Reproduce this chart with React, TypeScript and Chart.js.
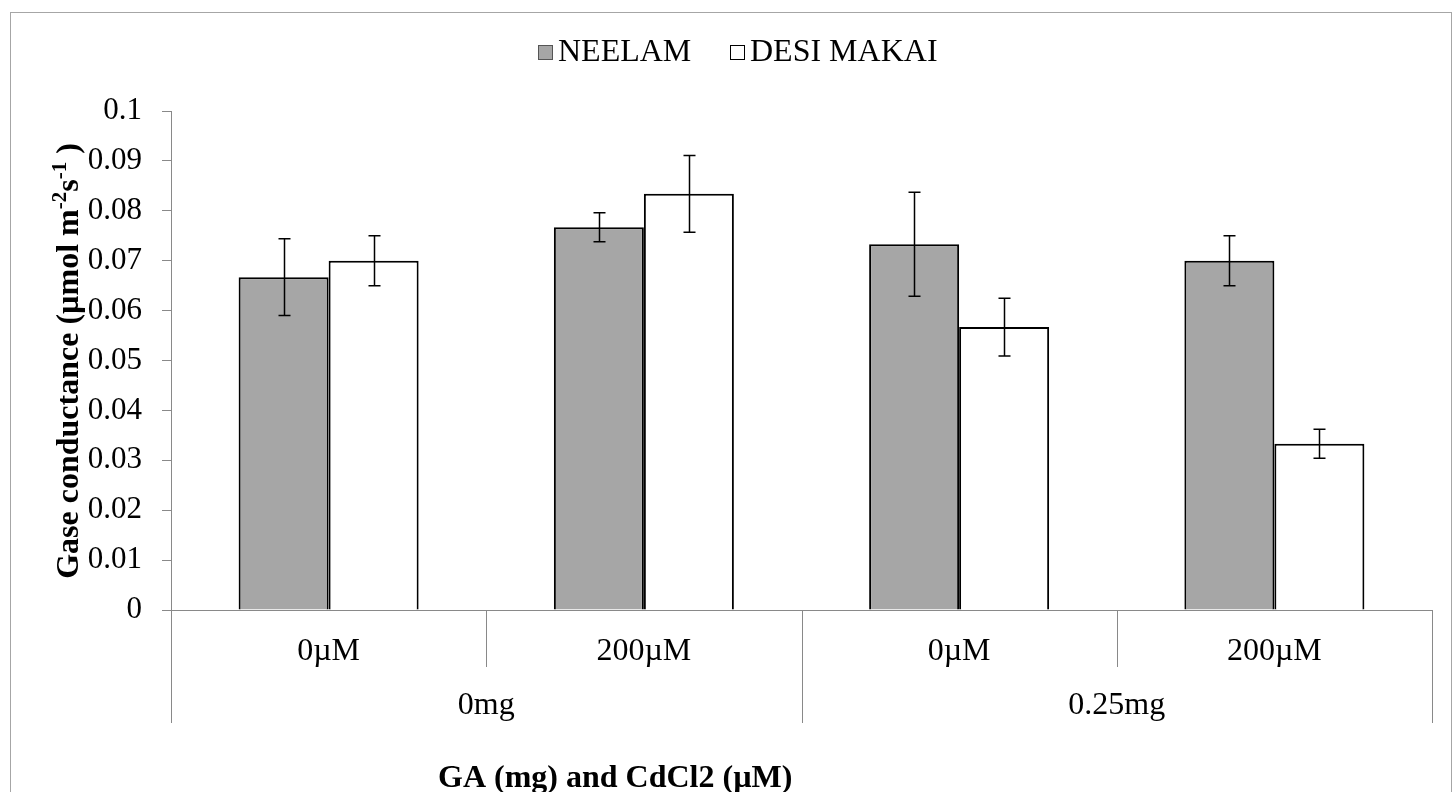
import React, { useEffect, useRef } from "react";
import { Chart, registerables } from "chart.js";

Chart.register(...registerables);

const subCategories = ["0µM", "200µM", "0µM", "200µM"];
const groupLabels = ["0mg", "0.25mg"];
const seriesNames = ["NEELAM", "DESI MAKAI"];
const neelam = [0.0667, 0.0767, 0.0733, 0.07];
const neelamErr = [0.0077, 0.0029, 0.0104, 0.005];
const desi = [0.07, 0.0834, 0.0567, 0.0333];
const desiErr = [0.005, 0.0077, 0.0058, 0.0029];
const yTickValues = [0, 0.01, 0.02, 0.03, 0.04, 0.05, 0.06, 0.07, 0.08, 0.09, 0.1];
const yTitleParts = [
  { t: "Gase conductance (µmol m", sup: false },
  { t: "-2", sup: true },
  { t: "s", sup: false },
  { t: "-1", sup: true },
  { t: " )", sup: false },
];
const xTitle = "GA (mg) and CdCl2 (µM)";

const FONT = "'Liberation Serif', 'Times New Roman', serif";
const AXIS_GRAY = "#898989";
const errs = [neelamErr, desiErr];

const decorPlugin = {
  id: "decor",
  afterDatasetsDraw(chart: any) {
    const ctx = chart.ctx;
    const y = chart.scales.y;
    ctx.save();
    ctx.strokeStyle = "#000";
    ctx.lineWidth = 1.5;
    chart.data.datasets.forEach((ds: any, di: number) => {
      const meta = chart.getDatasetMeta(di);
      meta.data.forEach((el: any, i: number) => {
        const v = ds.data[i];
        const e = errs[di][i];
        const x = Math.round(el.x) + 0.5;
        const yt = y.getPixelForValue(v + e);
        const yb = y.getPixelForValue(v - e);
        ctx.beginPath();
        ctx.moveTo(x, yt);
        ctx.lineTo(x, yb);
        ctx.moveTo(x - 6, yt);
        ctx.lineTo(x + 6, yt);
        ctx.moveTo(x - 6, yb);
        ctx.lineTo(x + 6, yb);
        ctx.stroke();
      });
    });
    ctx.restore();
  },
  afterDraw(chart: any) {
    const ctx = chart.ctx;
    const area = chart.chartArea;
    const xs = chart.scales.x;
    ctx.save();
    // outer border
    ctx.strokeStyle = "#A6A6A6";
    ctx.lineWidth = 1;
    ctx.strokeRect(10.5, 12.5, 1441, 790);

    // category separators
    ctx.strokeStyle = AXIS_GRAY;
    const n = subCategories.length;
    const catW = (area.right - area.left) / n;
    for (let i = 0; i <= n; i++) {
      const x = Math.round(area.left + catW * i) + 0.5;
      const outer = i % 2 === 0;
      ctx.beginPath();
      ctx.moveTo(x, area.bottom);
      ctx.lineTo(x, outer ? area.bottom + 113 : area.bottom + 57);
      ctx.stroke();
    }

    // category labels
    ctx.fillStyle = "#000";
    ctx.textAlign = "center";
    ctx.textBaseline = "alphabetic";
    ctx.font = `32px ${FONT}`;
    subCategories.forEach((lab, i) => {
      ctx.fillText(lab, xs.getPixelForValue(i), area.bottom + 50);
    });
    groupLabels.forEach((lab, g) => {
      const cx = (xs.getPixelForValue(g * 2) + xs.getPixelForValue(g * 2 + 1)) / 2;
      ctx.fillText(lab, cx, area.bottom + 104);
    });

    // x title
    ctx.font = `bold 32px ${FONT}`;
    ctx.textAlign = "left";
    ctx.fillText(xTitle, 438, 787);

    // y title with superscripts
    ctx.translate(78, 361);
    ctx.rotate(-Math.PI / 2);
    const normal = `bold 32px ${FONT}`;
    const small = `bold 21px ${FONT}`;
    let total = 0;
    yTitleParts.forEach((p) => {
      ctx.font = p.sup ? small : normal;
      total += ctx.measureText(p.t).width;
    });
    let cx = -total / 2;
    ctx.textAlign = "left";
    yTitleParts.forEach((p) => {
      ctx.font = p.sup ? small : normal;
      ctx.fillText(p.t, cx, p.sup ? -12 : 0);
      cx += ctx.measureText(p.t).width;
    });
    ctx.setTransform(1, 0, 0, 1, 0, 0);

    // legend
    const colors = ["#A6A6A6", "#FFFFFF"];
    const boxX = [538, 730];
    ctx.font = `32px ${FONT}`;
    ctx.textBaseline = "middle";
    seriesNames.forEach((name, i) => {
      ctx.fillStyle = colors[i];
      ctx.fillRect(boxX[i] + 0.5, 45.5, 14, 14);
      ctx.strokeStyle = i === 0 ? "#555" : "#000";
      ctx.lineWidth = 1;
      ctx.strokeRect(boxX[i] + 0.5, 45.5, 14, 14);
      ctx.fillStyle = "#000";
      ctx.fillText(name, boxX[i] + 20, 53);
    });
    ctx.restore();
  },
};

export default function App() {
  const ref = useRef<HTMLCanvasElement | null>(null);
  useEffect(() => {
    document.body.style.margin = "0";
    const canvas = ref.current!;
    const chart = new Chart(canvas, {
      type: "bar",
      data: {
        labels: subCategories,
        datasets: [
          {
            label: seriesNames[0],
            data: neelam,
            backgroundColor: "#A6A6A6",
            borderColor: "#000",
            borderWidth: 2,
          },
          {
            label: seriesNames[1],
            data: desi,
            backgroundColor: "#FFFFFF",
            borderColor: "#000",
            borderWidth: 2,
          },
        ],
      },
      options: {
        responsive: false,
        animation: false,
        devicePixelRatio: 1,
        layout: { padding: { left: 0, top: 111, right: 23, bottom: 0 } },
        datasets: { bar: { categoryPercentage: 0.571, barPercentage: 1 } },
        plugins: {
          legend: { display: false },
          tooltip: { enabled: false },
          title: { display: false },
        },
        scales: {
          x: {
            grid: { display: false },
            border: { display: true, color: AXIS_GRAY, width: 1 },
            ticks: { display: false },
            afterFit: (s: any) => {
              s.height = 182;
            },
          },
          y: {
            min: 0,
            max: 0.1,
            afterBuildTicks: (s: any) => {
              s.ticks = yTickValues.map((v) => ({ value: v }));
            },
            grid: {
              drawOnChartArea: false,
              drawTicks: true,
              tickLength: 9,
              color: AXIS_GRAY,
            },
            border: { display: true, color: AXIS_GRAY, width: 1 },
            ticks: {
              color: "#000",
              padding: 20,
              font: { family: FONT, size: 31 },
              callback: (v: any) => String(Number(Number(v).toFixed(2))),
            },
            afterFit: (s: any) => {
              s.width = 171;
            },
          },
        },
      } as any,
      plugins: [decorPlugin],
    });
    return () => chart.destroy();
  }, []);
  return (
    <div style={{ position: "absolute", left: 0, top: 0, width: 1455, height: 792, background: "#fff" }}>
      <canvas ref={ref} width={1455} height={792} />
    </div>
  );
}
